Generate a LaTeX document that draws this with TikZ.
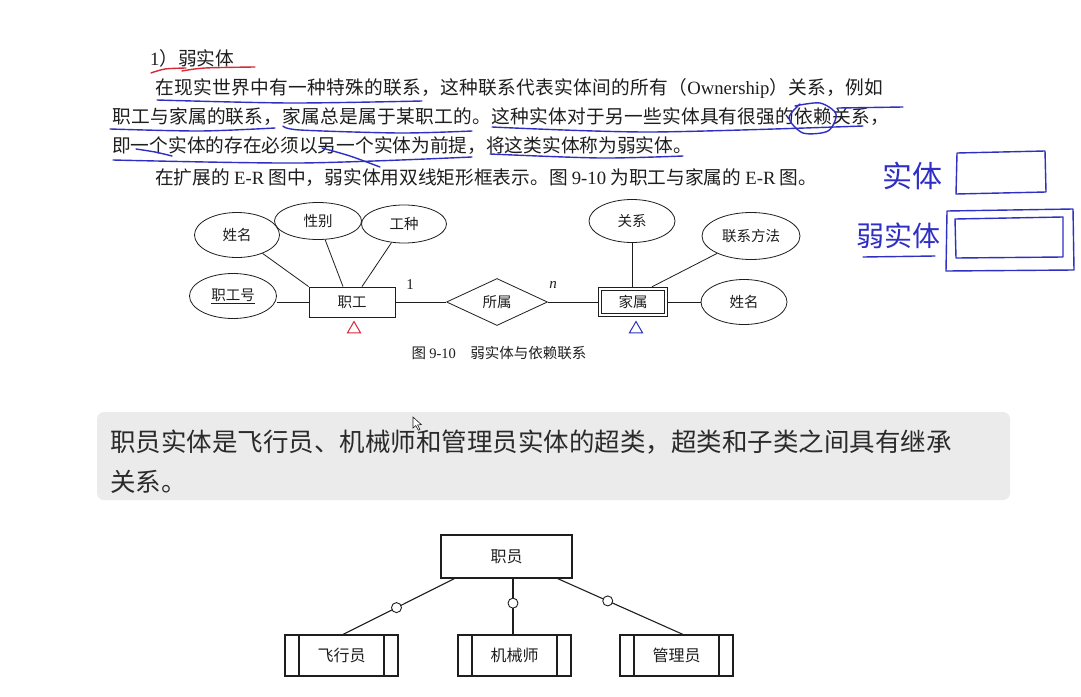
\documentclass[tikz,border=0pt]{standalone}
\usepackage{fontspec}
\setmainfont{Noto Sans CJK SC}
\newfontfamily\latin{Liberation Serif}
\newfontfamily\tightcjk{Noto Sans CJK SC}[LetterSpace=1.7]
\newfontfamily\widecjk{Noto Sans CJK SC}[LetterSpace=1.4]
\usepackage{xcolor}
\usetikzlibrary{shapes.geometric,calc}
\definecolor{ink}{HTML}{1E1E1E}
\definecolor{penblue}{HTML}{2F2FC4}
\definecolor{penred}{HTML}{D8283A}
\definecolor{boxgray}{HTML}{EBEBEB}
\definecolor{boxtext}{HTML}{2A2A2A}
\tikzset{
  every node/.style={text=ink},
  para/.style={anchor=west,inner sep=0pt,font=\fontsize{18.7}{22}\selectfont},
  erfont/.style={font=\fontsize{14.5}{17}\selectfont},
  attr/.style={ellipse,draw=ink,line width=0.8pt,inner sep=0pt,erfont},
  entity/.style={rectangle,draw=ink,line width=0.9pt,inner sep=0pt,erfont},
  weakent/.style={entity,line width=1.4pt,
    path picture={\draw[line width=0.7pt] ([shift={(3pt,-3pt)}]path picture bounding box.north west) rectangle ([shift={(-3pt,3pt)}]path picture bounding box.south east);}},
  relship/.style={diamond,draw=ink,line width=0.8pt,aspect=2,inner sep=0pt,minimum width=101pt,minimum height=47pt,erfont},
  conn/.style={draw=ink,line width=0.8pt},
  tri/.style={regular polygon,regular polygon sides=3,draw,line width=1pt,inner sep=0pt,minimum size=15pt},
  supent/.style={rectangle,draw=ink,line width=1.1pt,minimum width=131pt,minimum height=43pt,font=\fontsize{16}{19}\selectfont},
  subent/.style={supent,minimum width=113pt,minimum height=41pt,
    path picture={\draw[line width=1.1pt] ([xshift=14pt]path picture bounding box.north west) -- ([xshift=14pt]path picture bounding box.south west)
      ([xshift=-14pt]path picture bounding box.north east) -- ([xshift=-14pt]path picture bounding box.south east);}},
  ring/.style={circle,draw=ink,fill=white,line width=0.9pt,inner sep=0pt,minimum size=10pt},
  hand/.style={draw=penblue,line width=1.4pt,line cap=round,line join=round},
  handtext/.style={text=penblue,inner sep=0pt}
}
\begin{document}
\begin{tikzpicture}[x=1pt,y=-1pt]
  \useasboundingbox[fill=white] (0,0) rectangle (1081,696);

  % paragraph
  \node[para] (title) at (150,58) {{\latin 1}）弱实体};
  \node[para] (lineA) at (155,88) {\tightcjk 在现实世界中有一种特殊的联系，这种联系代表实体间的所有（{\latin Ownership}）关系，例如};
  \node[para] (lineB) at (112,117) {\widecjk 职工与家属的联系，家属总是属于某职工的。这种实体对于另一些实体具有很强的依赖关系，};
  \node[para] (lineC) at (112,146) {即一个实体的存在必须以另一个实体为前提，将这类实体称为弱实体。};
  \node[para] (lineD) at (155,178) {在扩展的 {\latin E-R} 图中，弱实体用双线矩形框表示。图 {\latin 9-10} 为职工与家属的 {\latin E-R} 图。};

  % pen marks
  \draw[draw=penred,line width=1.4pt,line cap=round] plot[smooth] coordinates {(151,73) (165,69) (186,68)};
  \draw[draw=penred,line width=1.4pt,line cap=round] plot[smooth] coordinates {(182,71) (205,68) (255,67)};
  \draw[hand] plot[smooth] coordinates {(157,100) (290,103) (422,101)};
  \draw[hand] plot[smooth] coordinates {(110,129) (200,131) (275,128)};
  \draw[hand] plot[smooth] coordinates {(283,126) (300,130) (400,133) (472,131)};
  \draw[hand] plot[smooth] coordinates {(492,127) (650,132) (863,126)};
  \draw[hand] plot[smooth] coordinates {(800,104) (789,118) (803,133) (828,131) (836,114) (820,103) (795,106)};
  \draw[hand] (838,108) -- (903,107);
  \draw[hand] plot[smooth] coordinates {(113,160) (300,163) (472,157)};
  \draw[hand] plot[smooth] coordinates {(136,149) (155,152) (172,156)};
  \draw[hand] plot[smooth] coordinates {(322,148) (350,156) (380,167)};
  \draw[hand] plot[smooth] coordinates {(490,154) (600,158) (683,156)};

  % handwritten legend
  \node[handtext,font=\fontsize{30}{32}\selectfont] (hwent) at (912,176) {实体};
  \node[handtext,font=\fontsize{28}{30}\selectfont] (hwweak) at (898,236) {弱实体};
  \draw[hand] (863,257) -- (935,256);
  \draw[hand] (957,153) -- (1045,151) -- (1046,192) -- (956,194) -- cycle;
  \draw[hand] (947,211) -- (1073,209) -- (1074,270) -- (946,271) -- cycle;
  \draw[hand] (955,219) -- (1063,217) -- (1063,257) -- (956,258) -- cycle;

  % E-R figure 9-10
  \node[attr,minimum width=85pt,minimum height=45pt] (ename) at (237,235) {姓名};
  \node[attr,minimum width=87pt,minimum height=37pt] (sex) at (318,221) {性别};
  \node[attr,minimum width=85pt,minimum height=38pt] (job) at (404,224) {工种};
  \node[attr,minimum width=87pt,minimum height=45pt] (wid) at (233,296) {\underline{职工号}};
  \node[entity,minimum width=86pt,minimum height=30pt] (worker) at (352,302) {职工};
  \node[relship] (belong) at (497,302) {所属};
  \node[weakent,minimum width=69pt,minimum height=29pt] (family) at (633,302) {家属};
  \node[attr,minimum width=86pt,minimum height=43pt] (relation) at (632,221) {关系};
  \node[attr,minimum width=98pt,minimum height=47pt] (contact) at (751,236) {联系方法};
  \node[attr,minimum width=86pt,minimum height=45pt] (fname) at (744,302) {姓名};
  \node[font=\fontsize{15}{17}\selectfont\latin,inner sep=0pt] (one) at (410,285) {1};
  \node[font=\fontsize{15}{17}\selectfont\latin\itshape,inner sep=0pt] (many) at (553,285) {n};
  \node[tri,draw=penred] (triA) at (354,329) {};
  \node[tri,draw=penblue] (triB) at (636,329) {};
  \node[erfont,inner sep=0pt] (caption) at (499,353) {图 {\latin 9-10}\quad 弱实体与依赖联系};

  \draw[conn] (ename) -- (worker.north west);
  \draw[conn] (sex) -- ([xshift=-9pt]worker.north);
  \draw[conn] (job) -- ([xshift=10pt]worker.north);
  \draw[conn] (worker.west -| wid.east) -- (worker.west);
  \draw[conn] (worker) -- (belong);
  \draw[conn] (belong) -- (family);
  \draw[conn] (relation) -- (relation |- family.north);
  \draw[conn] (contact) -- ([xshift=19pt]family.north);
  \draw[conn] (fname) -- (family);

  % grey note
  \node[fill=boxgray,rounded corners=7pt,minimum width=913pt,minimum height=88pt] (note) at (553.5,456) {};
  \node[anchor=west,align=left,inner sep=0pt,text=boxtext,font=\fontsize{25.5}{40}\selectfont] (notetext) at (110,462)
    {职员实体是飞行员、机械师和管理员实体的超类，超类和子类之间具有继承\\关系。};
  \draw[fill=white,draw=ink,line width=0.6pt] (413,417) -- (413,428) -- (415.8,425.6) -- (418.3,430.2) -- (419.9,429.4) -- (417.6,425) -- (421.3,424.6) -- cycle;

  % supertype / subtypes
  \node[supent] (staff) at (506.5,556.5) {职员};
  \node[subent] (pilot) at (341.5,655.5) {飞行员};
  \node[subent] (mech) at (514.5,655.5) {机械师};
  \node[subent] (admin) at (676.5,655.5) {管理员};
  \coordinate (midtop) at ([xshift=6.5pt]staff.south);

  \draw[conn,line width=1.1pt] ([xshift=14pt]staff.south west) -- node[ring,pos=0.52] (ringA) {} ([xshift=1.5pt]pilot.north);
  \draw[conn,line width=1.1pt] (midtop) -- node[ring,pos=0.44] (ringB) {} (midtop |- mech.north);
  \draw[conn,line width=1.1pt] ([xshift=-15pt]staff.south east) -- node[ring,pos=0.4] (ringC) {} ([xshift=6.5pt]admin.north);
\end{tikzpicture}
\end{document}
